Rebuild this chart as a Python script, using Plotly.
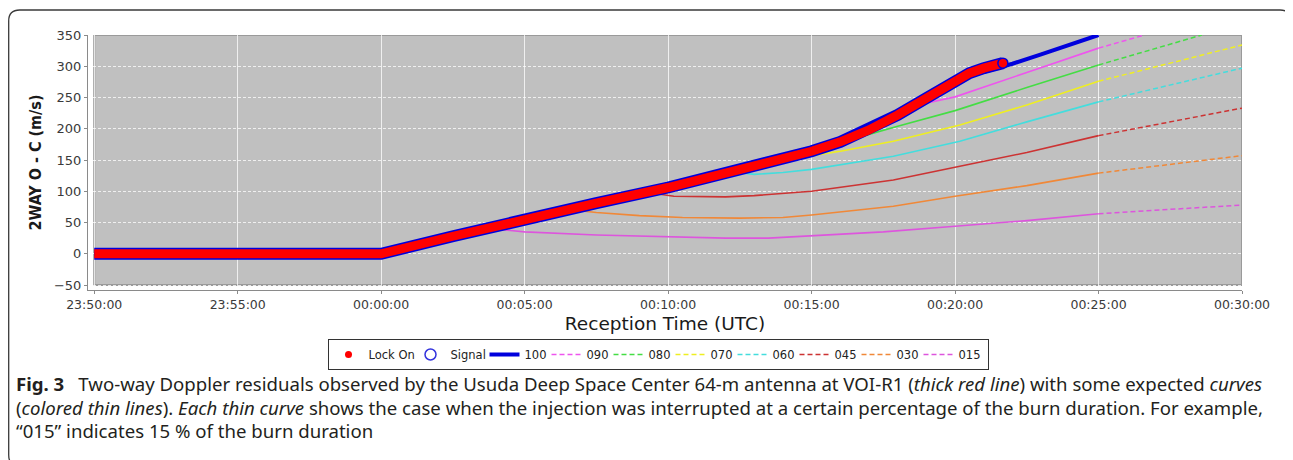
import plotly.graph_objects as go
import pandas as pd

# page offset of the figure inside the browser window (default body margin)
OFF = 8
W, H = 1293 - OFF, 460 - OFF
ML, MR, MT, MB = 88 - OFF, 1293 - 1242, 35 - OFF, 460 - 290

# ---------------- data (reception time, 2WAY O-C in m/s) ----------------
x_ticks = ["23:50:00", "23:55:00", "00:00:00", "00:05:00", "00:10:00",
           "00:15:00", "00:20:00", "00:25:00", "00:30:00"]
y_ticks = [-50, 0, 50, 100, 150, 200, 250, 300, 350]

lock_t = ["23:50:00", "00:00:00", "00:02:30", "00:05:00", "00:07:30", "00:10:00",
          "00:11:00", "00:12:00", "00:13:00", "00:14:00", "00:15:00", "00:16:00",
          "00:17:00", "00:18:00", "00:19:00", "00:20:00", "00:20:30", "00:21:00", "00:21:40"]
lock_v = [0, 0, 28, 56, 81, 106, 117, 128, 140, 151, 164, 179, 198, 222, 249, 278,
          289, 297, 305]

signal_t = lock_t
signal_v = lock_v

c100_t = ["23:50:00", "00:00:00", "00:02:30", "00:05:00", "00:07:30", "00:10:00",
          "00:11:00", "00:12:00", "00:13:00", "00:14:00", "00:15:00", "00:16:00",
          "00:17:00", "00:18:00", "00:19:00", "00:20:00", "00:21:00", "00:22:00",
          "00:23:00", "00:24:00", "00:25:00"]
c100_v = [0, 0, 28, 56, 81, 106, 117, 128, 140, 151, 164, 179, 198, 222, 249, 277,
          291, 304, 319, 335, 350]

c090_t = ["00:18:30", "00:20:00", "00:22:30", "00:25:00", "00:26:36"]
c090_v = [236, 251, 290, 329, 350]

c080_t = ["00:16:12", "00:17:00", "00:18:00", "00:20:00", "00:22:30", "00:25:00", "00:28:36"]
c080_v = [183, 191, 204, 229, 266, 302, 350]

c070_t = ["00:14:12", "00:15:00", "00:16:00", "00:17:51", "00:20:10", "00:22:30",
          "00:25:00", "00:30:00"]
c070_v = [154, 157, 164, 180, 206, 238, 276, 334]

c060_t = ["00:12:18", "00:13:00", "00:14:00", "00:15:00", "00:17:51", "00:20:10",
          "00:22:30", "00:25:00", "00:30:00"]
c060_v = [131, 127, 130, 135, 156, 180, 211, 243, 297]

c045_t = ["00:09:18", "00:10:12", "00:12:00", "00:13:00", "00:15:00", "00:17:51",
          "00:20:10", "00:22:30", "00:25:00", "00:30:00"]
c045_v = [98, 92, 91, 93, 100, 118, 140, 162, 189, 233]

c030_t = ["00:06:30", "00:07:30", "00:09:00", "00:10:30", "00:12:30", "00:14:00",
          "00:15:00", "00:16:00", "00:17:51", "00:20:00", "00:22:30", "00:25:00", "00:30:00"]
c030_v = [71, 66, 61, 58, 57, 58, 62, 67, 76, 92, 109, 129, 157]

c015_t = ["00:03:42", "00:05:00", "00:07:30", "00:10:24", "00:12:00", "00:13:30",
          "00:15:00", "00:16:00", "00:17:30", "00:20:00", "00:22:30", "00:25:00", "00:30:00"]
c015_v = [41, 35, 30, 27, 25, 25, 29, 31, 35, 44, 53, 64, 78]

curve_names = ["090", "080", "070", "060", "045", "030", "015"]
curve_times = [c090_t, c080_t, c070_t, c060_t, c045_t, c030_t, c015_t]
curve_vals = [c090_v, c080_v, c070_v, c060_v, c045_v, c030_v, c015_v]
curve_colors = ["#ee55ee", "#44dd44", "#eeee22", "#44dddd", "#cc3333", "#f08838", "#dd55dd"]
split_time = "00:25:00"


def to_dt(s):
    day = "2000-01-01" if int(s[:2]) >= 12 else "2000-01-02"
    return pd.Timestamp(f"{day} {s}")


def dts(lst):
    return [to_dt(s) for s in lst]


# convert window pixel positions to paper coordinates
def px_x(px):
    return (px - OFF - ML) / (W - ML - MR)


def px_y(py):
    return (H - MB - (py - OFF)) / (H - MT - MB)


NUM_LW = 17   # legend text width for the short numeric entries
LAST_LW = 24  # last entry needs its full text width inside the box

fig = go.Figure()

# 100 % curve
fig.add_trace(go.Scatter(x=dts(c100_t), y=c100_v, mode="lines", name="100",
                         line=dict(color="#0000dd", width=4), legendrank=3,
                         legendwidth=NUM_LW))

# expected curves: solid up to the split time, dashed after
split = to_dt(split_time)
for i, (nm, tt, vv, col) in enumerate(zip(curve_names, curve_times, curve_vals, curve_colors)):
    d = dts(tt)
    sx = [a for a in d if a <= split]
    sy = [v for a, v in zip(d, vv) if a <= split]
    dx = [a for a in d if a >= split]
    dy = [v for a, v in zip(d, vv) if a >= split]
    lw = LAST_LW if i == len(curve_names) - 1 else NUM_LW
    fig.add_trace(go.Scatter(x=sx, y=sy, mode="lines", showlegend=False,
                             line=dict(color=col, width=1.6)))
    fig.add_trace(go.Scatter(x=dx, y=dy, mode="lines", name=nm, legendrank=4 + i,
                             legendwidth=lw,
                             line=dict(color=col, width=1.5, dash="5px,3px")))

# observed data (dense markers forming a thick band)
fig.add_trace(go.Scatter(x=dts(signal_t), y=signal_v, mode="lines", showlegend=False,
                         line=dict(color="#0000dd", width=12)))
fig.add_trace(go.Scatter(x=dts(lock_t), y=lock_v, mode="lines", showlegend=False,
                         line=dict(color="#ff0000", width=9)))
fig.add_trace(go.Scatter(x=[dts(lock_t)[-1]], y=[lock_v[-1]], mode="markers", showlegend=False,
                         marker=dict(color="#ff0000", size=10,
                                     line=dict(color="#0000dd", width=1.5))))

# legend entries for the marker series
fig.add_trace(go.Scatter(x=[None], y=[None], mode="markers", name="Lock On", legendrank=1,
                         legendwidth=37, marker=dict(color="#ff0000", size=7)))
fig.add_trace(go.Scatter(x=[None], y=[None], mode="markers", name="Signal", legendrank=2,
                         legendwidth=29,
                         marker=dict(symbol="circle-open", color="#3333dd", size=11,
                                     line=dict(width=1.5))))

shapes = [
    dict(type="rect", xref="x", yref="y", x0=to_dt("23:50:00"), x1=to_dt("00:30:00"),
         y0=-50, y1=350, fillcolor="#c0c0c0", line=dict(color="#9a9a9a", width=2),
         layer="below"),
]

# rounded frame around the figure
x0, x1, y0, y1, r = 8.7, 1291, 10, 466, 11
path = (f"M {px_x(x0 + r)},{px_y(y0)} L {px_x(x1 - r)},{px_y(y0)} "
        f"Q {px_x(x1)},{px_y(y0)} {px_x(x1)},{px_y(y0 + r)} "
        f"L {px_x(x1)},{px_y(y1 - r)} Q {px_x(x1)},{px_y(y1)} {px_x(x1 - r)},{px_y(y1)} "
        f"L {px_x(x0 + r)},{px_y(y1)} Q {px_x(x0)},{px_y(y1)} {px_x(x0)},{px_y(y1 - r)} "
        f"L {px_x(x0)},{px_y(y0 + r)} Q {px_x(x0)},{px_y(y0)} {px_x(x0 + r)},{px_y(y0)} Z")
shapes.append(dict(type="path", xref="paper", yref="paper", path=path,
                   line=dict(color="#3a3a3a", width=1.3), layer="above"))

cap_font = dict(family="Noto Sans", size=18.6, color="#231f20")
caption_lines = [
    "<b>Fig. 3</b>\u2002 Two-way Doppler residuals observed by the Usuda Deep Space Center 64-m antenna at VOI-R1 (<i>thick red line</i>) with some expected <i>curves</i>",
    "(<i>colored thin lines</i>). <i>Each thin curve</i> shows the case when the injection was interrupted at a certain percentage of the burn duration. For example,",
    "\u201c015\u201d indicates 15 % of the burn duration",
]
caption_y = [383, 407, 430]
annotations = [dict(text=t, xref="paper", yref="paper", x=px_x(14), y=px_y(yy),
                    xanchor="left", yanchor="middle", showarrow=False, font=cap_font)
               for t, yy in zip(caption_lines, caption_y)]

fig.update_layout(
    width=W, height=H,
    margin=dict(l=ML, r=MR, t=MT, b=MB),
    paper_bgcolor="white", plot_bgcolor="white",
    shapes=shapes, annotations=annotations,
    legend=dict(orientation="h", x=px_x(658), xanchor="center", y=px_y(339), yanchor="top",
                bordercolor="#333333", borderwidth=1, bgcolor="white",
                font=dict(family="DejaVu Sans", size=11.5, color="#222222"),
                itemwidth=30, traceorder="normal", tracegroupgap=0),
    xaxis=dict(type="date", range=[to_dt("23:49:47"), to_dt("00:30:00")],
               tickvals=dts(x_ticks), ticktext=x_ticks,
               showgrid=True, gridcolor="rgba(255,255,255,0.75)", gridwidth=1,
               showline=True, linecolor="#8a8a8a", linewidth=1,
               ticks="outside", ticklen=3, tickcolor="#8a8a8a",
               tickfont=dict(family="DejaVu Sans", size=12.5, color="#3a3a3a"),
               title=dict(text="Reception Time (UTC)", standoff=6,
                          font=dict(family="DejaVu Sans", size=18.5, color="#1a1a1a")),
               zeroline=False),
    yaxis=dict(range=[-58, 350], tickvals=y_ticks,
               showgrid=True, gridcolor="rgba(255,255,255,0.75)", gridwidth=1,
               griddash="3px,2px",
               showline=True, linecolor="#8a8a8a", linewidth=1,
               ticks="outside", ticklen=3, tickcolor="#8a8a8a",
               tickfont=dict(family="DejaVu Sans", size=13, color="#3a3a3a"),
               title=dict(text="2WAY O - C (m/s)", standoff=8,
                          font=dict(family="DejaVu Sans Condensed", size=16, color="#1a1a1a",
                                    weight="bold")),
               zeroline=False),
)

fig.write_html("out.html")
